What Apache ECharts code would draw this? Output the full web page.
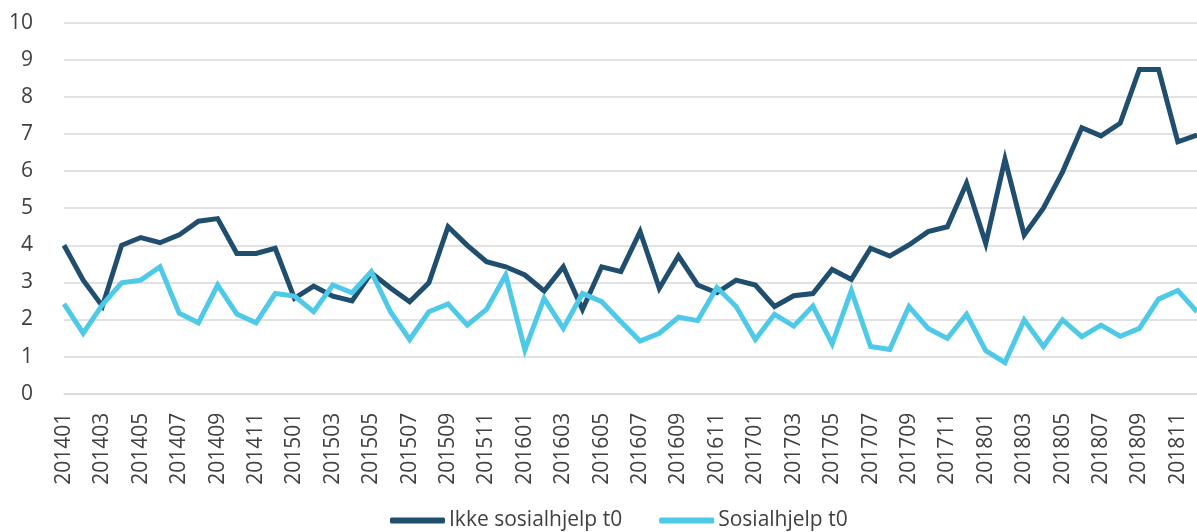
<!DOCTYPE html>
<html>
<head>
<meta charset="utf-8">
<script src="https://cdn.jsdelivr.net/npm/echarts@6/dist/echarts.min.js"></script>
<style>
html,body{margin:0;padding:0;background:#fff;}
#chart{width:1197px;height:532px;}
</style>
</head>
<body>
<div id="chart"></div>
<script>
const categories = [
  '201401','201402','201403','201404','201405','201406','201407','201408','201409','201410','201411','201412',
  '201501','201502','201503','201504','201505','201506','201507','201508','201509','201510','201511','201512',
  '201601','201602','201603','201604','201605','201606','201607','201608','201609','201610','201611','201612',
  '201701','201702','201703','201704','201705','201706','201707','201708','201709','201710','201711','201712',
  '201801','201802','201803','201804','201805','201806','201807','201808','201809','201810','201811','201812'
];
const ikkeSosialhjelp = [
  4.00,3.06,2.36,4.00,4.21,4.07,4.28,4.65,4.72,3.78,3.78,3.92,
  2.57,2.90,2.63,2.50,3.26,2.85,2.48,2.99,4.50,4.00,3.56,3.42,
  3.20,2.77,3.42,2.27,3.42,3.29,4.37,2.84,3.71,2.93,2.72,3.06,
  2.93,2.35,2.64,2.70,3.35,3.08,3.92,3.71,4.01,4.37,4.50,5.67,
  4.05,6.32,4.28,5.00,5.98,7.17,6.95,7.29,8.74,8.74,6.79,6.97
];
const sosialhjelp = [
  2.42,1.63,2.40,2.99,3.06,3.42,2.17,1.91,2.93,2.15,1.91,2.70,
  2.63,2.21,2.93,2.72,3.29,2.21,1.46,2.21,2.42,1.85,2.27,3.20,
  1.18,2.57,1.76,2.70,2.48,1.94,1.42,1.63,2.06,1.97,2.86,2.35,
  1.46,2.14,1.82,2.36,1.34,2.78,1.27,1.19,2.35,1.76,1.49,2.14,
  1.16,0.84,1.99,1.27,1.99,1.54,1.85,1.55,1.76,2.55,2.78,2.21
];
const seriesNames = ['Ikke sosialhjelp t0', 'Sosialhjelp t0'];
const colors = ['#1f4e6e', '#4fc9e8'];

const chart = echarts.init(document.getElementById('chart'), null, {renderer: 'canvas'});
const font = '"Open Sans", "Noto Sans", sans-serif';
chart.setOption({
  animation: false,
  textStyle: {fontFamily: font},
  grid: {left: 64, right: 0, top: 22.7, bottom: 138.3, containLabel: false},
  legend: {
    left: 390, top: 510, padding: 0,
    itemWidth: 55, itemHeight: 6, itemGap: 37,
    icon: 'roundRect',
    textStyle: {fontSize: 21, color: '#404040', fontFamily: font, padding: [0,0,0,-1]},
    data: seriesNames
  },
  xAxis: {
    type: 'category',
    data: categories,
    boundaryGap: false,
    axisLine: {show: true, lineStyle: {color: '#d9d9d9', width: 1.5}},
    axisTick: {show: false},
    axisLabel: {interval: 1, rotate: 90, fontSize: 21, color: '#404040', margin: 19, fontFamily: font},
    splitLine: {show: false}
  },
  yAxis: {
    type: 'value',
    min: 0, max: 10, interval: 1,
    axisLine: {show: false},
    axisTick: {show: false},
    axisLabel: {fontSize: 21, color: '#404040', margin: 31, fontFamily: font},
    splitLine: {show: true, lineStyle: {color: '#d9d9d9', width: 1.5}}
  },
  series: [
    {name: seriesNames[0], type: 'line', data: ikkeSosialhjelp, color: colors[0], showSymbol: false, symbol: 'none',
     lineStyle: {width: 5, color: colors[0], join: 'miter'}},
    {name: seriesNames[1], type: 'line', data: sosialhjelp, color: colors[1], showSymbol: false, symbol: 'none',
     lineStyle: {width: 5, color: colors[1], join: 'miter'}}
  ]
});
</script>
</body>
</html>
